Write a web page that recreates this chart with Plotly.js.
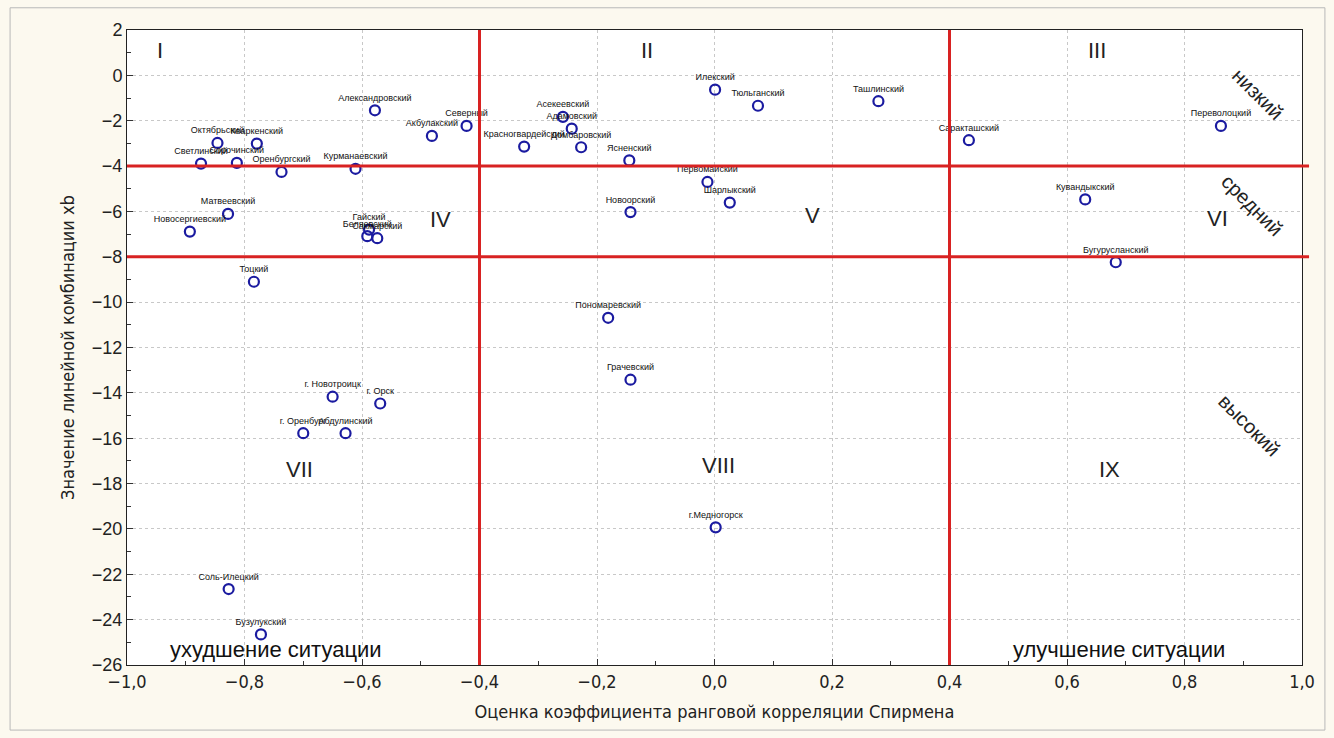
<!DOCTYPE html>
<html>
<head>
<meta charset="utf-8">
<script src="https://cdn.plot.ly/plotly-3.0.1.min.js"></script>
<style>
  html, body { margin: 0; padding: 0; background: #fcf9ef; }
  #chart { width: 1334px; height: 738px; }
</style>
</head>
<body>
<div id="chart"></div>
<script>
// ---- data ----
const districts = [
  "Александровский", "Северный", "Акбулакский", "Октябрьский", "Кваркенский",
  "Светлинский", "Сорочинский", "Оренбургский", "Курманаевский", "Матвеевский",
  "Новосергиевский", "Гайский", "Беляевский", "Сакмарский", "Тоцкий",
  "Асекеевский", "Адамовский", "Красногвардейский", "Домбаровский", "Ясненский",
  "Новоорский", "Илекский", "Тюльганский", "Ташлинский", "Первомайский",
  "Шарлыкский", "Саракташский", "Переволоцкий", "Кувандыкский", "Бугурусланский",
  "г. Оренбург", "Абдулинский", "г. Новотроицк", "г. Орск", "Пономаревский",
  "Грачевский", "г.Медногорск", "Соль-Илецкий", "Бузулукский"
];
const spearman = [
  -0.578, -0.422, -0.481, -0.846, -0.779,
  -0.874, -0.813, -0.737, -0.611, -0.828,
  -0.893, -0.588, -0.591, -0.574, -0.784,
  -0.258, -0.243, -0.324, -0.227, -0.145,
  -0.143, 0.001, 0.074, 0.279, -0.012,
  0.026, 0.433, 0.862, 0.631, 0.683,
  -0.700, -0.628, -0.650, -0.569, -0.181,
  -0.143, 0.002, -0.827, -0.772
];
const xbValue = [
  -1.54, -2.23, -2.67, -2.98, -3.01,
  -3.89, -3.86, -4.26, -4.12, -6.11,
  -6.89, -6.80, -7.09, -7.18, -9.10,
  -1.83, -2.35, -3.14, -3.17, -3.75,
  -6.03, -0.63, -1.34, -1.14, -4.70,
  -5.61, -2.86, -2.23, -5.47, -8.24,
  -15.78, -15.78, -14.17, -14.47, -10.69,
  -13.42, -19.93, -22.65, -24.65
];
const xBounds = [-0.4, 0.4];
const yBounds = [-4, -8];
const xTickVals = [-1.0, -0.8, -0.6, -0.4, -0.2, 0.0, 0.2, 0.4, 0.6, 0.8, 1.0];
const yTickVals = [2, 0, -2, -4, -6, -8, -10, -12, -14, -16, -18, -20, -22, -24, -26];
const zoneLabels = ["I", "II", "III", "IV", "V", "VI", "VII", "VIII", "IX"];
const zoneX = [-0.944, -0.115, 0.651, -0.467, 0.166, 0.857, -0.706, 0.006, 0.673];
const zoneY = [1.1, 1.1, 1.1, -6.35, -6.2, -6.3, -17.4, -17.2, -17.4];
const levelLabels = ["низкий", "средний", "высокий"];
const levelX = [0.925, 0.915, 0.91];
const levelY = [-0.8, -5.7, -15.4];
const trendLabels = ["ухудшение ситуации", "улучшение ситуации"];
const trendX = [-0.746, 0.689];
const trendY = [-25.3, -25.3];

// ---- chart ----
const font = "Liberation Sans, Arial, sans-serif";
const narrow = "Liberation Sans Narrow, Arial Narrow, DejaVu Sans Condensed, Liberation Sans, sans-serif";

const trace = {
  type: "scatter",
  mode: "markers+text",
  x: spearman,
  y: xbValue,
  text: districts,
  textposition: "top center",
  textfont: { family: font, size: 9, color: "#111111" },
  marker: { symbol: "circle-open", size: 10, color: "#1b1ba0", line: { width: 2.2, color: "#1b1ba0" } },
  cliponaxis: false,
  hoverinfo: "skip"
};

const shapes = [];
xBounds.forEach(v => shapes.push({ type: "line", xref: "x", yref: "paper", x0: v, x1: v, y0: 0, y1: 1, line: { color: "#d82222", width: 3 } }));
yBounds.forEach(v => shapes.push({ type: "line", xref: "paper", yref: "y", x0: 0, x1: 1.006, y0: v, y1: v, line: { color: "#d82222", width: 3 } }));
shapes.push({ type: "rect", xref: "paper", yref: "paper", x0: -0.0995, x1: 1.0195, y0: -0.1025, y1: 1.035, line: { color: "#b8b8b8", width: 1 }, layer: "below" });

const annotations = [];
zoneLabels.forEach((t, i) => annotations.push({ x: zoneX[i], y: zoneY[i], xref: "x", yref: "y", text: t, showarrow: false, font: { family: font, size: 22, color: "#222222" } }));
levelLabels.forEach((t, i) => annotations.push({ x: levelX[i], y: levelY[i], xref: "x", yref: "y", text: t, showarrow: false, textangle: 45, font: { family: font, size: 20, color: "#222222" } }));
trendLabels.forEach((t, i) => annotations.push({ x: trendX[i], y: trendY[i], xref: "x", yref: "y", text: t, showarrow: false, font: { family: font, size: 22, color: "#111111" } }));

const layout = {
  width: 1334,
  height: 738,
  margin: { l: 127, r: 32, t: 30, b: 73 },
  paper_bgcolor: "#fcf9ef",
  plot_bgcolor: "#ffffff",
  separators: ", ",
  showlegend: false,
  xaxis: {
    range: [-1, 1],
    tickvals: xTickVals,
    tickformat: ".1f",
    ticks: "inside",
    ticklen: 6,
    tickcolor: "#333",
    minor: { dtick: 0.1, ticks: "inside", ticklen: 4, tickcolor: "#333", showgrid: false },
    showgrid: true,
    gridcolor: "#c8c8c8",
    griddash: "dot",
    gridwidth: 1,
    zeroline: false,
    showline: true,
    linecolor: "#222",
    linewidth: 1,
    mirror: true,
    tickfont: { family: narrow, size: 18, color: "#222" },
    title: { text: "Оценка коэффициента ранговой корреляции Спирмена", font: { family: narrow, size: 18, color: "#222" }, standoff: 14 }
  },
  yaxis: {
    range: [-26, 2],
    tickvals: yTickVals,
    ticks: "inside",
    ticklen: 6,
    tickcolor: "#333",
    minor: { dtick: 1, ticks: "inside", ticklen: 4, tickcolor: "#333", showgrid: false },
    showgrid: true,
    gridcolor: "#c8c8c8",
    griddash: "dot",
    gridwidth: 1,
    zeroline: false,
    showline: true,
    linecolor: "#222",
    linewidth: 1,
    mirror: true,
    tickfont: { family: font, size: 18, color: "#222" },
    title: { text: "Значение линейной комбинации xb", font: { family: narrow, size: 18, color: "#222" }, standoff: 12 }
  },
  shapes: shapes,
  annotations: annotations
};

Plotly.newPlot("chart", [trace], layout, { displayModeBar: false, staticPlot: true });
</script>
</body>
</html>
